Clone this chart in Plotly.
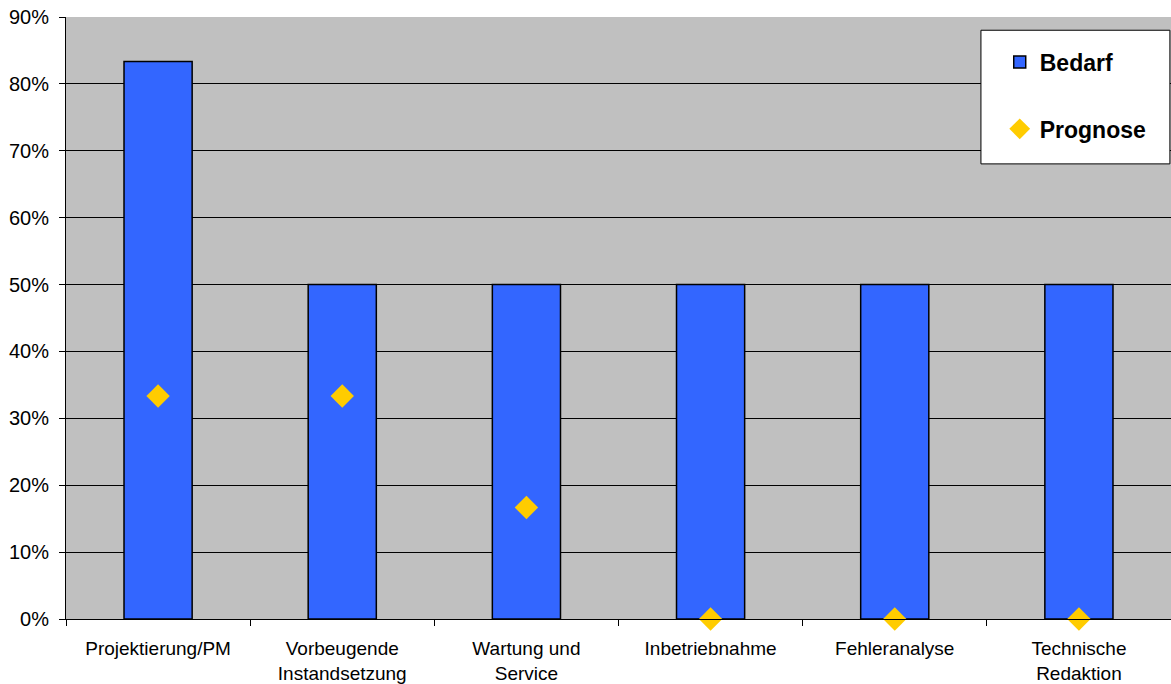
import plotly.graph_objects as go

categories = [
    "Projektierung/PM",
    "Vorbeugende<br>Instandsetzung",
    "Wartung und<br>Service",
    "Inbetriebnahme",
    "Fehleranalyse",
    "Technische<br>Redaktion",
]
bedarf = [0.8333, 0.50, 0.50, 0.50, 0.50, 0.50]
prognose = [0.3333, 0.3333, 0.1667, 0.0, 0.0, 0.0]

FONT = "Liberation Sans, Arial, sans-serif"

fig = go.Figure()
fig.add_trace(go.Bar(
    x=categories, y=bedarf, name="Bedarf", legendgroup="a",
    marker=dict(color="#3366FF", line=dict(color="black", width=1.5)),
    width=0.37,
))
fig.add_trace(go.Scatter(
    x=categories, y=prognose, name="Prognose", legendgroup="b",
    mode="markers", cliponaxis=False,
    marker=dict(symbol="diamond", color="#FFCC00", size=18),
))

fig.update_layout(
    width=1171, height=684,
    margin=dict(l=66, r=0, t=17, b=65),
    paper_bgcolor="white", plot_bgcolor="#C0C0C0",
    font=dict(family=FONT, size=19, color="black"),
    showlegend=True,
    legend=dict(
        x=0.845, y=0.961, xanchor="left", yanchor="top",
        bgcolor="rgba(0,0,0,0)", borderwidth=0,
        font=dict(size=23, family=FONT, weight="bold"),
        traceorder="grouped", tracegroupgap=34,
    ),
    shapes=[dict(
        type="rect", xref="paper", yref="paper",
        x0=0.828, x1=0.999, y0=0.756, y1=0.978,
        fillcolor="white", line=dict(color="black", width=1), layer="above",
    )],
    bargap=0.63,
)

fig.update_yaxes(
    range=[0, 0.9], dtick=0.1, tickformat=".0%",
    showgrid=True, gridcolor="black", gridwidth=1,
    showline=True, linecolor="black", linewidth=1,
    ticks="outside", ticklen=6, tickcolor="black",
    zeroline=False, ticklabelstandoff=6,
    tickfont=dict(size=20),
)
fig.update_xaxes(
    showline=True, linecolor="black", linewidth=1,
    ticks="outside", ticklen=6, tickcolor="black",
    tickson="boundaries", showgrid=False,
    ticklabelstandoff=12,
    tickfont=dict(size=19),
)

fig.write_html("out.html")
